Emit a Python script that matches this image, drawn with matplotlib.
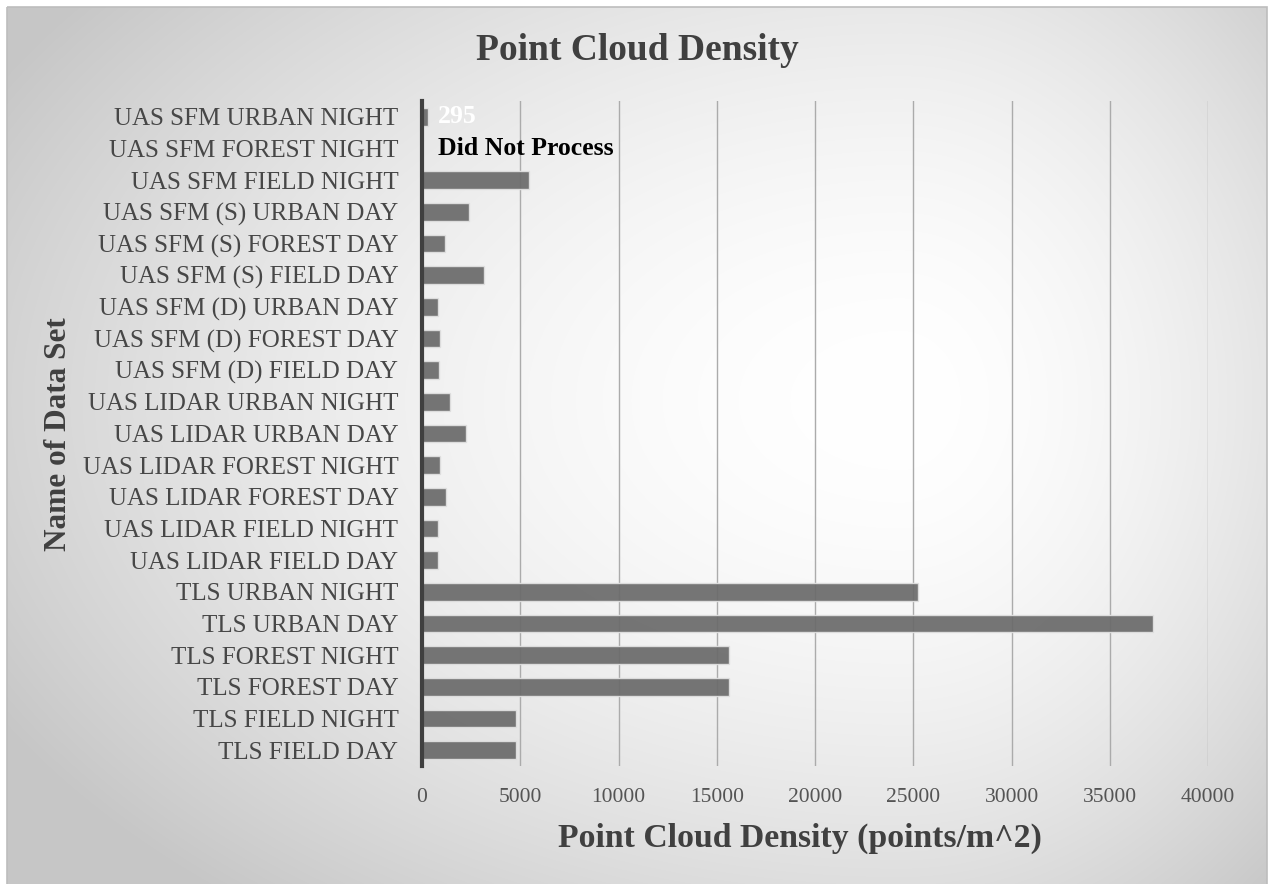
import numpy as np
import matplotlib
matplotlib.use("Agg")
import matplotlib.pyplot as plt
from matplotlib.patches import Rectangle

categories = [
    "TLS FIELD DAY", "TLS FIELD NIGHT", "TLS FOREST DAY", "TLS FOREST NIGHT",
    "TLS URBAN DAY", "TLS URBAN NIGHT",
    "UAS LIDAR FIELD DAY", "UAS LIDAR FIELD NIGHT", "UAS LIDAR FOREST DAY",
    "UAS LIDAR FOREST NIGHT", "UAS LIDAR URBAN DAY", "UAS LIDAR URBAN NIGHT",
    "UAS SFM (D) FIELD DAY", "UAS SFM (D) FOREST DAY", "UAS SFM (D) URBAN DAY",
    "UAS SFM (S) FIELD DAY", "UAS SFM (S) FOREST DAY", "UAS SFM (S) URBAN DAY",
    "UAS SFM FIELD NIGHT", "UAS SFM FOREST NIGHT", "UAS SFM URBAN NIGHT",
]
values = [
    4800, 4780, 15600, 15600,
    37200, 25250,
    790, 820, 1240,
    930, 2230, 1420,
    880, 930, 830,
    3160, 1150, 2380,
    5460, 0, 295,
]
labels = {"UAS SFM URBAN NIGHT": "295", "UAS SFM FOREST NIGHT": "Did Not Process"}
xticks = [0, 5000, 10000, 15000, 20000, 25000, 30000, 35000, 40000]

FONT = "Liberation Serif"
plt.rcParams['font.family'] = [FONT, 'DejaVu Serif']

W, H = 1274, 884
fig = plt.figure(figsize=(W / 100, H / 100), dpi=100)
fig.patch.set_facecolor("white")

# background gradient
bg = fig.add_axes([0, 0, 1, 1], zorder=-10)
bg.set_xlim(0, W)
bg.set_ylim(H, 0)
bg.axis("off")
yy, xx = np.mgrid[0:H, 0:W].astype(float)
cx, cy = 900, 400
dx = xx - cx
rx = np.where(dx < 0, 950.0, 520.0)
r = np.sqrt((dx / rx) ** 2 + ((yy - cy) / 600.0) ** 2)
val = 1.0 - 0.19 * r ** 1.8
val = np.clip(val, 0.78, 1.0)
img = np.dstack([val, val, val])
bx0, by0, bx1, by1 = 7, 7, 1267, 900
im = bg.imshow(img, extent=(0, W, H, 0), interpolation="bilinear")
clip = Rectangle((bx0, by0), bx1 - bx0, by1 - by0, transform=bg.transData)
im.set_clip_path(clip)
bg.add_patch(Rectangle((bx0, by0), bx1 - bx0, by1 - by0, fill=False,
                       edgecolor="#bdbdbd", linewidth=1.2))

ax = fig.add_axes([422 / W, 1 - 766 / H, (1208 - 422) / W, (766 - 101) / H])
ax.set_facecolor("none")
y = np.arange(len(categories))
ax.barh(y, values, height=0.55, color="#6b6b6b", alpha=0.93,
        edgecolor="#e0e0e0", linewidth=1.0, zorder=3)
ax.set_xlim(0, 40000)
ax.set_ylim(-0.5, len(categories) - 0.5)
ax.set_xticks(xticks)
ax.set_xticklabels([str(t) for t in xticks])
ax.set_yticks(y)
ax.set_yticklabels(categories)
ax.grid(axis="x", color="#ababab", linewidth=1.0, zorder=1)
ax.set_axisbelow(True)
for s in ["top", "right", "bottom"]:
    ax.spines[s].set_visible(False)
ax.spines["left"].set_color("#404040")
ax.spines["left"].set_linewidth(3)
ax.spines["left"].set_zorder(4)
ax.tick_params(axis="both", length=0)
ax.tick_params(axis="y", pad=17, labelsize=18, labelcolor="#474747")
ax.tick_params(axis="x", pad=16, labelsize=15.5, labelcolor="#545454")

for i, c in enumerate(categories):
    if c in labels:
        col = "white" if labels[c] == "295" else "black"
        dxp = 10 if labels[c] == "295" else 16
        ax.annotate(labels[c], (values[i], i), xytext=(dxp * 0.72, 0),
                    textcoords="offset points", va="center", ha="left",
                    fontsize=18.5, fontweight="bold", color=col, zorder=5)

fig.text(637 / W, 1 - 50 / H, "Point Cloud Density", ha="center", va="center",
         fontsize=27, fontweight="bold", color="#404040")
fig.text(800 / W, 1 - 838 / H, "Point Cloud Density (points/m^2)", ha="center",
         va="center", fontsize=24.3, fontweight="bold", color="#404040")
fig.text(58 / W, 1 - 434 / H, "Name of Data Set", ha="center", va="center",
         rotation=90, fontsize=22.5, fontweight="bold", color="#404040")

fig.savefig("out.png", dpi=100)
